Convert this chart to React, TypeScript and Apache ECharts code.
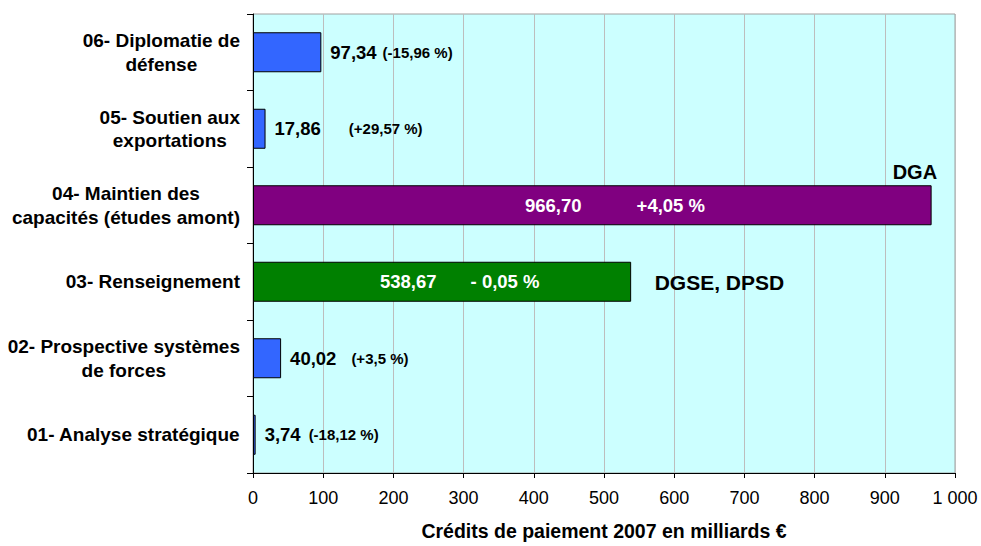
import React, { useEffect, useRef } from "react";
import * as echarts from "echarts";

const categories = [
  "01- Analyse stratégique",
  "02- Prospective systèmes\nde forces",
  "03- Renseignement",
  "04- Maintien des\ncapacités (études amont)",
  "05- Soutien aux\nexportations",
  "06- Diplomatie de\ndéfense",
];
const values = [3.74, 40.02, 538.67, 966.7, 17.86, 97.34];
const changes = ["(-18,12 %)", "(+3,5 %)", "- 0,05 %", "+4,05 %", "(+29,57 %)", "(-15,96 %)"];
const agencies = ["", "", "DGSE, DPSD", "DGA", "", ""];
const axisTitle = "Crédits de paiement 2007 en milliards €";
const xMin = 0;
const xMax = 1000;
const xInterval = 100;

// styles / layout
const barColors = ["#3366FF", "#3366FF", "#008000", "#800080", "#3366FF", "#3366FF"];
const insideLabel = [false, false, true, true, false, false];
const labelGaps = [8, 15, 34, 55, 28, 6];
const insideOffsets = [0, 0, 127, 272, 0, 0];
const agencyPos: number[][] = [[0, 0], [0, 0], [24, 1], [6, -33], [0, 0], [0, 0]];
const agencyAlign = ["left", "left", "left", "right", "left", "left"];
const agencySize = [20, 20, 21, 20, 20, 20];

const FONT = "'Liberation Sans', Arial, sans-serif";

function fmtNum(v: number) {
  return v.toFixed(2).replace(".", ",");
}

export default function App() {
  const ref = useRef<HTMLDivElement>(null);
  useEffect(() => {
    if (!ref.current) return;
    const chart = echarts.init(ref.current, undefined, { renderer: "svg" });

    const barData = values.map((v, i) => {
      const inside = insideLabel[i];
      const color = inside ? "#FFFFFF" : "#000000";
      const rich: any = {
        v: { fontFamily: FONT, fontWeight: "bold", fontSize: 18.5, color },
        p: {
          fontFamily: FONT,
          fontWeight: "bold",
          fontSize: inside ? 18.5 : 15,
          color,
        },
        g: { width: labelGaps[i], fontSize: 10 },
      };
      const label: any = {
        show: true,
        formatter: `{v|${fmtNum(v)}}{g| }{p|${changes[i]}}`,
        rich,
        textBorderWidth: 0,
      };
      if (inside) {
        label.position = "insideLeft";
        label.distance = 0;
        label.offset = [insideOffsets[i], 0];
      } else {
        label.position = "right";
        label.distance = 9;
      }
      return {
        value: v,
        itemStyle: { color: barColors[i], borderColor: "#000", borderWidth: 1 },
        label,
      };
    });

    const agencyData = values.map((v, i) => {
      if (!agencies[i]) return { value: ["-", "-"] };
      return {
        value: [v, i],
        label: {
          show: true,
          formatter: agencies[i],
          position: agencyPos[i],
          align: agencyAlign[i],
          verticalAlign: "middle",
          fontFamily: FONT,
          fontWeight: "bold",
          fontSize: agencySize[i],
          color: "#000000",
          opacity: 1,
          textBorderWidth: 0,
        },
      };
    });

    chart.setOption({
      animation: false,
      backgroundColor: "#FFFFFF",
      textStyle: { fontFamily: FONT },
      grid: {
        left: 253,
        right: 26,
        top: 14,
        bottom: 71,
        show: true,
        backgroundColor: "#CCFFFF",
        borderColor: "#A0A0A0",
        borderWidth: 1,
      },
      xAxis: {
        type: "value",
        min: xMin,
        max: xMax,
        interval: xInterval,
        name: axisTitle,
        nameLocation: "middle",
        nameGap: 48,
        nameTextStyle: {
          fontFamily: FONT,
          fontWeight: "bold",
          fontSize: 19.5,
          color: "#000",
        },
        axisLine: { show: true, lineStyle: { color: "#000", width: 1 } },
        axisTick: { show: true, length: 5, lineStyle: { color: "#000" } },
        splitLine: { show: true, lineStyle: { color: "#BDBDBD", width: 1 } },
        axisLabel: {
          fontFamily: FONT,
          fontSize: 18,
          color: "#000",
          margin: 16,
          formatter: (v: number) => String(v).replace(/\B(?=(\d{3})+(?!\d))/g, " "),
        },
      },
      yAxis: {
        type: "category",
        data: categories,
        axisLine: { show: true, lineStyle: { color: "#000", width: 1 } },
        axisTick: { show: true, length: 6, lineStyle: { color: "#000" } },
        splitLine: { show: false },
        axisLabel: {
          margin: 13,
          align: "right",
          formatter: (val: string) =>
            val
              .split("\n")
              .map((l) => `{c|${l}}`)
              .join("\n"),
          rich: {
            c: {
              align: "center",
              fontFamily: FONT,
              fontWeight: "bold",
              fontSize: 19,
              lineHeight: 23.5,
              color: "#000",
            },
          },
        },
      },
      series: [
        {
          type: "bar",
          data: barData,
          barWidth: 40,
          z: 2,
        },
        {
          type: "scatter",
          data: agencyData,
          symbol: "circle",
          symbolSize: 1,
          itemStyle: { color: "rgba(0,0,0,0)", opacity: 1 },
          silent: true,
          z: 5,
        },
      ],
    });
    return () => chart.dispose();
  }, []);
  return (
    <div
      ref={ref}
      style={{ position: "fixed", left: 0, top: 0, width: 981, height: 546 }}
    />
  );
}
